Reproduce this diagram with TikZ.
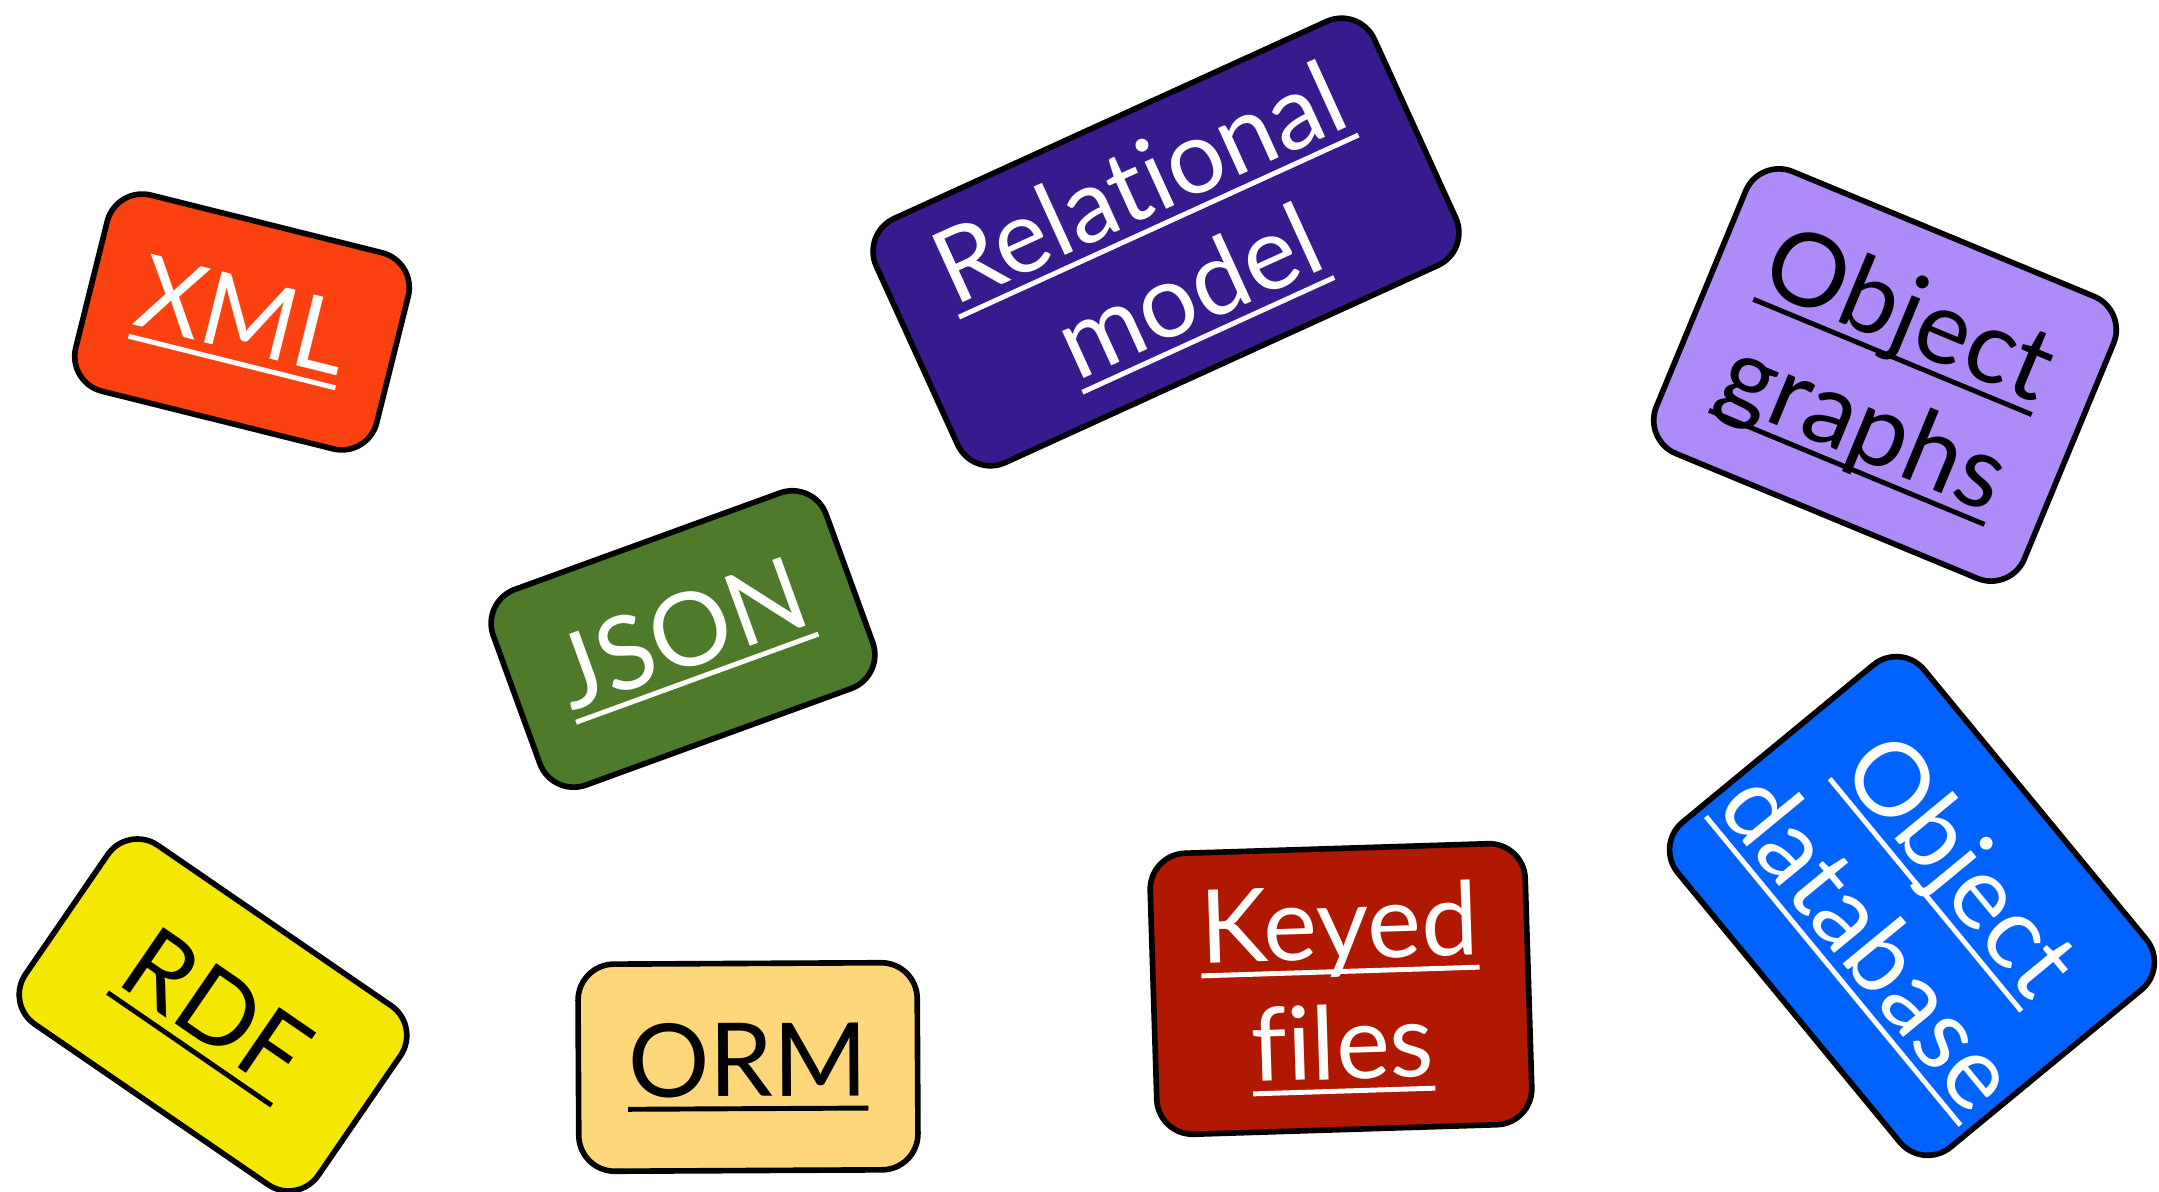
\documentclass[tikz,border=0pt]{standalone}
\usepackage{fontspec}
\setmainfont{Lato}[Ligatures={NoCommon}]
\newcommand{\uword}[1]{\setbox0\hbox{#1}\rlap{\rule[-4.1pt]{\wd0}{1.4pt}}\box0}
\definecolor{xmlred}{HTML}{FC4110}
\definecolor{relpurple}{HTML}{381A8F}
\definecolor{objlilac}{HTML}{AF8BF9}
\definecolor{jsongreen}{HTML}{4E7B2A}
\definecolor{odbblue}{HTML}{0063FF}
\definecolor{rdfyellow}{HTML}{F4E800}
\definecolor{ormsand}{HTML}{FDD77A}
\definecolor{keyedred}{HTML}{B01800}
\tikzset{
  card/.style={draw=black, line width=1.6pt, rounded corners=0.36cm, align=center,
    inner sep=0pt, font=\fontsize{29}{34}\selectfont},
}
\begin{document}
\begin{tikzpicture}[x=0.01cm,y=-0.01cm]
  \useasboundingbox (0,0) rectangle (2159,1192);
  \node[card, fill=xmlred, text=white, rotate=-14, minimum width=3.10cm, minimum height=2.02cm]
    (xml) at (242,322) {\uword{XML}};
  \node[card, fill=relpurple, text=white, rotate=24.5, minimum width=5.47cm, minimum height=2.68cm]
    (relational) at (1166,242) {\uword{Relational}\\\uword{model}};
  \node[card, fill=objlilac, text=black, rotate=-22.5, minimum width=3.98cm, minimum height=3.05cm]
    (objgraphs) at (1885,375) {\uword{Object}\\\uword{graphs}};
  \node[card, fill=jsongreen, text=white, rotate=20, minimum width=3.54cm, minimum height=2.08cm]
    (json) at (683,639) {\uword{JSON}};
  \node[card, fill=odbblue, text=white, rotate=-50.5, minimum width=4.21cm, minimum height=3.19cm]
    (objdb) at (1912,906) {\uword{Object}\\\uword{database}};
  \node[card, fill=rdfyellow, text=black, rotate=-34.5, minimum width=3.55cm, minimum height=2.17cm]
    (rdf) at (213,1015) {\uword{RDF}};
  \node[card, fill=ormsand, text=black, rotate=0.3, minimum width=3.39cm, minimum height=2.07cm]
    (orm) at (748,1067) {\uword{ORM}};
  \node[card, fill=keyedred, text=white, rotate=1.8, minimum width=3.75cm, minimum height=2.81cm]
    (keyed) at (1341,989) {\uword{Keyed}\\\uword{files}};
\end{tikzpicture}
\end{document}
